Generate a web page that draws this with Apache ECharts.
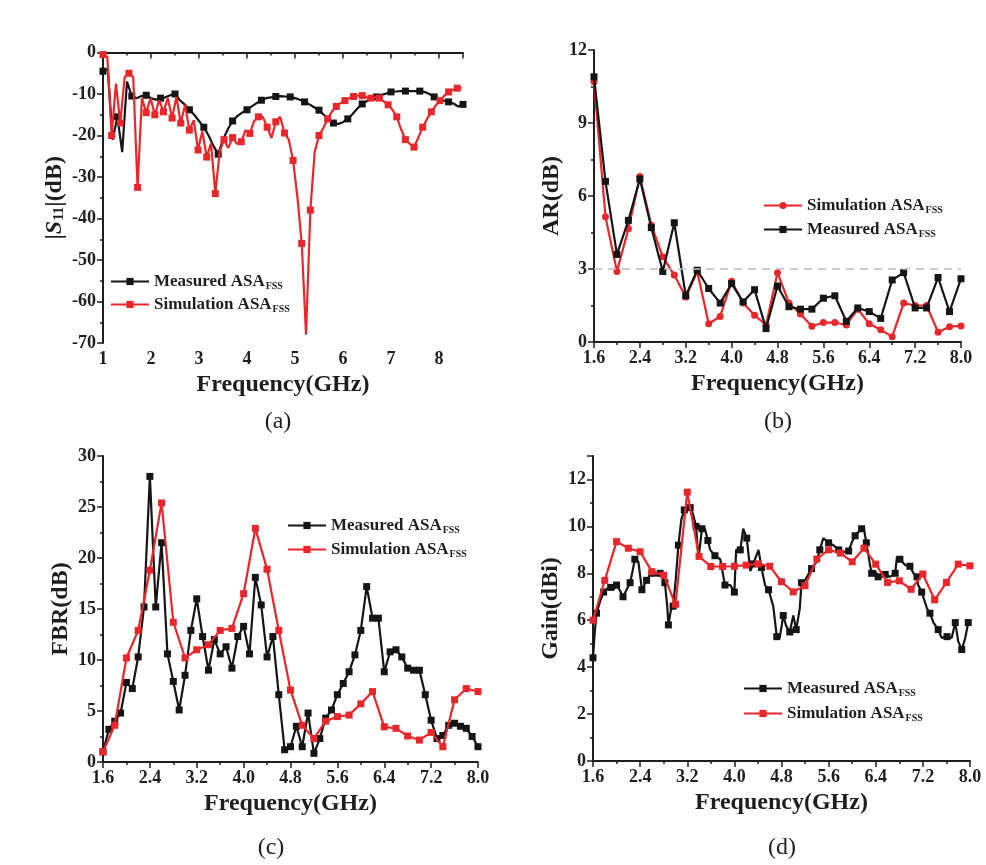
<!DOCTYPE html>
<html>
<head>
<meta charset="utf-8">
<script src="https://cdn.jsdelivr.net/npm/echarts@6/dist/echarts.min.js"></script>
<style>
  html, body { margin: 0; padding: 0; background: #fff; }
  #chart { width: 986px; height: 865px; }
</style>
</head>
<body>
<div id="chart"></div>
<script>
// (a) |S11| versus frequency, [GHz, dB]
const s11Measured = [
  [1.0,-4.5],[1.1,-4],[1.2,-21],[1.3,-15.5],[1.4,-24],[1.5,-7],[1.6,-10.5],[1.7,-11],[1.8,-10.5],[1.9,-10.3],
  [2.0,-11],[2.1,-11.4],[2.2,-11],[2.3,-10.8],[2.4,-10.3],[2.5,-10],[2.6,-11.5],[2.7,-12.5],[2.8,-13.8],[2.9,-15],
  [3.0,-16.5],[3.1,-18],[3.2,-20],[3.3,-22.5],[3.4,-24.5],[3.5,-21],[3.6,-18.5],[3.7,-16.5],[3.8,-15.3],[3.9,-14.5],
  [4.0,-13.8],[4.1,-13],[4.2,-12.2],[4.3,-11.5],[4.4,-11],[4.5,-10.8],[4.6,-10.6],[4.7,-10.5],[4.8,-10.6],[4.9,-10.7],
  [5.0,-11],[5.1,-11.4],[5.2,-11.9],[5.3,-12.5],[5.4,-13.2],[5.5,-13.9],[5.6,-15],[5.7,-16],[5.8,-17],[5.9,-17.2],
  [6.0,-16.8],[6.1,-16],[6.2,-14.8],[6.3,-13.5],[6.4,-12.4],[6.5,-11.7],[6.6,-11.1],[6.7,-10.7],[6.8,-10.2],[6.9,-9.9],
  [7.0,-9.5],[7.1,-9.4],[7.2,-9.3],[7.3,-9.3],[7.4,-9.3],[7.5,-9.3],[7.6,-9.3],[7.7,-9.5],[7.8,-10],[7.9,-10.7],
  [8.0,-11.2],[8.1,-11.6],[8.2,-11.9],[8.3,-12.3],[8.4,-13],[8.5,-12.5]
];
const s11Simulated = [
  [1.00,-0.5],[1.09,-1],[1.18,-20],[1.27,-7.5],[1.36,-17],[1.45,-6],[1.54,-5],[1.63,-6],[1.72,-32.5],[1.81,-11],
  [1.90,-14.5],[1.99,-11],[2.08,-15],[2.17,-11.5],[2.26,-14.3],[2.35,-11],[2.44,-15.8],[2.53,-10.7],[2.62,-17],[2.71,-12.6],
  [2.80,-18.7],[2.89,-16.3],[2.98,-23.5],[3.07,-19],[3.16,-25.2],[3.25,-21.9],[3.34,-34],[3.43,-24],[3.52,-21],[3.61,-23],
  [3.70,-20.5],[3.79,-22],[3.88,-21.5],[3.97,-18.7],[4.06,-19.5],[4.15,-16.5],[4.24,-15.5],[4.33,-15.5],[4.42,-18],[4.51,-20.6],
  [4.60,-16.7],[4.69,-15.5],[4.78,-19.4],[4.87,-21],[4.96,-26],[5.05,-34.8],[5.14,-46],[5.23,-68],[5.32,-38],[5.41,-24],
  [5.50,-20],[5.59,-18.2],[5.68,-16],[5.77,-14.2],[5.86,-13],[5.95,-12.2],[6.04,-11.6],[6.13,-11],[6.22,-10.6],[6.31,-10.4],
  [6.40,-10.4],[6.49,-10.8],[6.58,-11],[6.67,-10.8],[6.76,-11],[6.85,-11.8],[6.94,-12.6],[7.03,-13.8],[7.12,-15.5],[7.21,-18.5],
  [7.30,-21],[7.39,-22],[7.48,-22.8],[7.57,-20.5],[7.66,-18],[7.75,-16],[7.84,-14.3],[7.93,-12.8],[8.02,-11.6],[8.11,-10.4],
  [8.20,-9.5],[8.29,-9],[8.38,-8.6],[8.47,-8.6]
];

// (b) axial ratio, [GHz, dB]
const arSimulated = [
  [1.6,10.7],[1.8,5.15],[2.0,2.9],[2.2,4.65],[2.4,6.8],[2.6,4.8],[2.8,3.5],[3.0,2.75],[3.2,1.85],[3.4,2.9],
  [3.6,0.75],[3.8,1.05],[4.0,2.5],[4.2,1.6],[4.4,1.1],[4.6,0.7],[4.8,2.85],[5.0,1.6],[5.2,1.15],[5.4,0.65],
  [5.6,0.8],[5.8,0.8],[6.0,0.7],[6.2,1.35],[6.4,0.75],[6.6,0.5],[6.8,0.22],[7.0,1.6],[7.2,1.5],[7.4,1.5],
  [7.6,0.4],[7.8,0.63],[8.0,0.66]
];
const arMeasured = [
  [1.6,10.9],[1.8,6.6],[2.0,3.6],[2.2,5.0],[2.4,6.7],[2.6,4.7],[2.8,2.9],[3.0,4.9],[3.2,1.9],[3.4,2.95],
  [3.6,2.2],[3.8,1.6],[4.0,2.4],[4.2,1.65],[4.4,2.15],[4.6,0.55],[4.8,2.3],[5.0,1.45],[5.2,1.35],[5.4,1.35],
  [5.6,1.8],[5.8,1.9],[6.0,0.85],[6.2,1.4],[6.4,1.25],[6.6,0.97],[6.8,2.55],[7.0,2.85],[7.2,1.4],[7.4,1.4],
  [7.6,2.65],[7.8,1.25],[8.0,2.6]
];
const arLimit = 3;

// (c) front-to-back ratio, [GHz, dB]
const fbrMeasured = [
  [1.6,1.0],[1.7,3.2],[1.8,4.0],[1.9,4.8],[2.0,7.8],[2.1,7.2],[2.2,10.3],[2.3,15.2],[2.4,28.0],[2.5,15.2],
  [2.6,21.5],[2.7,10.6],[2.8,7.9],[2.9,5.1],[3.0,8.5],[3.1,12.9],[3.2,16.0],[3.3,12.3],[3.4,9.0],[3.5,12.0],
  [3.6,10.6],[3.7,11.3],[3.8,9.2],[3.9,12.3],[4.0,13.3],[4.1,10.6],[4.2,18.1],[4.3,15.4],[4.4,10.3],[4.5,12.3],
  [4.6,6.6],[4.7,1.2],[4.8,1.5],[4.9,3.5],[5.0,1.5],[5.1,4.8],[5.2,0.85],[5.3,2.3],[5.4,4.3],[5.5,5.1],
  [5.6,6.6],[5.7,7.7],[5.8,8.85],[5.9,10.5],[6.0,12.9],[6.1,17.2],[6.2,14.1],[6.3,14.1],[6.4,8.85],[6.5,10.8],
  [6.6,11.0],[6.7,10.3],[6.8,9.2],[6.9,9.0],[7.0,9.0],[7.1,6.6],[7.2,4.1],[7.3,2.3],[7.4,2.6],[7.5,3.6],
  [7.6,3.8],[7.7,3.5],[7.8,3.3],[7.9,2.5],[8.0,1.5]
];
const fbrSimulated = [
  [1.6,1.0],[1.8,3.6],[2.0,10.2],[2.2,12.9],[2.4,18.8],[2.6,25.4],[2.8,13.7],[3.0,10.2],[3.2,11.0],[3.4,11.5],
  [3.6,12.9],[3.8,13.1],[4.0,16.5],[4.2,22.9],[4.4,18.9],[4.6,12.9],[4.8,7.05],[5.0,3.6],[5.2,2.3],[5.4,4.0],
  [5.6,4.45],[5.8,4.6],[6.0,5.7],[6.2,6.9],[6.4,3.45],[6.6,3.3],[6.8,2.55],[7.0,2.15],[7.2,2.9],[7.4,1.5],
  [7.6,6.1],[7.8,7.2],[8.0,6.9]
];

// (d) realized gain, [GHz, dBi]
const gainMeasured = [
  [1.6,4.4],[1.63,5.5],[1.66,6.3],[1.72,6.8],[1.78,7.2],[1.84,7.35],[1.9,7.4],[1.95,7.3],[2.0,7.5],[2.05,7.3],
  [2.11,7.0],[2.17,7.3],[2.23,7.6],[2.28,8.2],[2.31,8.6],[2.37,8.5],[2.43,7.3],[2.47,7.5],[2.51,7.7],[2.56,7.9],
  [2.6,8.0],[2.67,7.9],[2.74,8.0],[2.79,7.8],[2.82,7.6],[2.86,6.6],[2.88,5.8],[2.92,6.4],[2.96,6.6],[3.0,7.6],
  [3.05,9.2],[3.1,10.3],[3.15,10.7],[3.19,10.8],[3.25,10.8],[3.3,10.5],[3.35,10.0],[3.39,8.6],[3.45,9.9],[3.5,9.9],
  [3.55,9.4],[3.59,9.0],[3.67,8.75],[3.76,8.6],[3.84,7.5],[3.93,7.5],[4.0,7.2],[4.03,9.0],[4.1,9.0],[4.15,9.9],
  [4.21,9.5],[4.27,8.1],[4.32,8.4],[4.41,9.0],[4.46,8.25],[4.52,7.5],[4.58,7.3],[4.66,6.6],[4.72,5.3],[4.77,5.25],
  [4.83,6.2],[4.88,5.75],[4.94,5.5],[5.0,6.2],[5.05,5.6],[5.11,6.5],[5.14,7.6],[5.2,7.7],[5.31,8.2],[5.4,8.5],
  [5.45,9.0],[5.51,9.5],[5.6,9.3],[5.68,9.2],[5.77,9.0],[5.85,8.9],[5.94,8.95],[5.99,9.3],[6.05,9.6],[6.1,9.75],
  [6.16,9.9],[6.2,9.9],[6.24,9.3],[6.3,8.4],[6.33,8.0],[6.39,8.1],[6.44,7.85],[6.5,8.0],[6.56,7.95],[6.64,7.85],
  [6.73,8.0],[6.76,8.7],[6.81,8.6],[6.9,8.35],[6.98,8.3],[7.04,8.0],[7.1,7.85],[7.12,7.5],[7.18,7.2],[7.27,6.5],
  [7.32,6.3],[7.38,5.9],[7.46,5.6],[7.52,5.25],[7.61,5.3],[7.69,5.25],[7.75,5.9],[7.8,5.1],[7.86,4.75],[7.92,5.25],
  [7.97,5.9]
];
const gainSimulated = [
  [1.6,6.0],[1.8,7.7],[2.0,9.35],[2.2,9.07],[2.4,8.92],[2.6,8.07],[2.8,7.92],[3.0,6.68],[3.2,11.46],[3.4,8.72],
  [3.6,8.29],[3.8,8.29],[4.0,8.3],[4.2,8.35],[4.4,8.4],[4.6,8.3],[4.8,7.64],[5.0,7.21],[5.2,7.47],[5.4,8.61],
  [5.6,9.0],[5.8,8.86],[6.0,8.49],[6.2,9.07],[6.4,8.39],[6.6,7.61],[6.8,7.68],[7.0,7.32],[7.2,7.97],[7.4,6.87],
  [7.6,7.61],[7.8,8.39],[8.0,8.32]
];

const panelLabels = ['(a)', '(b)', '(c)', '(d)'];
const legendMeasured = 'Measured ASA';
const legendSimulated = 'Simulation ASA';
const legendSub = 'FSS';

const SERIF = "'Liberation Serif','DejaVu Serif',serif";
const RED = '#e8262b';
const BLACK = '#151515';
const INK = '#1e1e1e';

const grids = [
  { left: 103, top: 52.5, width: 360, height: 290.5 },
  { left: 594, top: 50, width: 367, height: 292 },
  { left: 103, top: 456, width: 375, height: 306 },
  { left: 593, top: 456, width: 377, height: 305 }
];

function xAxis(i, min, max, interval, digits) {
  return {
    type: 'value', gridIndex: i, min, max, interval,
    name: 'Frequency(GHz)', nameLocation: 'middle', nameGap: 30,
    nameTextStyle: { fontFamily: SERIF, fontWeight: 'bold', fontSize: 24, color: INK },
    axisLine: { lineStyle: { color: INK, width: 2 } },
    axisTick: { length: 6, lineStyle: { color: INK, width: 1.5 } },
    minorTick: { show: true, splitNumber: 2, length: 3, lineStyle: { color: INK, width: 1.5 } },
    splitLine: { show: false },
    axisLabel: {
      fontFamily: SERIF, fontWeight: 'bold', fontSize: 18, color: INK, margin: 7,
      formatter: v => {
        const k = Math.round((v - min) / interval);
        return Math.abs(min + k * interval - v) < 1e-6 ? v.toFixed(digits) : '';
      }
    }
  };
}

function yAxis(i, name, min, max, interval, gap) {
  return {
    type: 'value', gridIndex: i, min, max, interval,
    name, nameLocation: 'middle', nameGap: gap, nameRotate: 90,
    nameTextStyle: {
      fontFamily: SERIF, fontWeight: 'bold', fontSize: 24, color: INK,
      rich: {
        n: { fontFamily: SERIF, fontWeight: 'bold', fontSize: 24, color: INK },
        i: { fontFamily: SERIF, fontWeight: 'bold', fontStyle: 'italic', fontSize: 24, color: INK },
        sub: { fontFamily: SERIF, fontWeight: 'bold', fontSize: 15, color: INK, padding: [8, 0, 0, 0] }
      }
    },
    axisLine: { lineStyle: { color: INK, width: 2 } },
    axisTick: { length: 6, lineStyle: { color: INK, width: 1.5 } },
    minorTick: { show: true, splitNumber: 2, length: 3, lineStyle: { color: INK, width: 1.5 } },
    splitLine: { show: false },
    axisLabel: {
      fontFamily: SERIF, fontWeight: 'bold', fontSize: 18, color: INK, margin: 7,
      formatter: v => {
        const k = Math.round((v - min) / interval);
        return Math.abs(min + k * interval - v) < 1e-6 ? String(v) : '';
      }
    }
  };
}

// Every point is drawn; a marker sits on every `every`-th point.
function curve(name, data, color, symbol, i, every, z) {
  return {
    type: 'line', name, xAxisIndex: i, yAxisIndex: i, z,
    data: data.map((p, k) => (k % every === 0 ? p : { value: p, symbol: 'none' })),
    symbol, symbolSize: 7, showAllSymbol: true,
    lineStyle: { color, width: 2.2 },
    itemStyle: { color, borderWidth: 0 },
    emphasis: { disabled: true },
    animation: false
  };
}

function legend(left, top, names, gap) {
  return {
    orient: 'vertical', left, top, padding: 0, itemGap: gap,
    itemWidth: 38, itemHeight: 9, selectedMode: false,
    data: names,
    formatter: n => (n.endsWith('meas') ? `{m|${legendMeasured}}{s|${legendSub}}` : `{m|${legendSimulated}}{s|${legendSub}}`),
    textStyle: {
      rich: {
        m: { fontFamily: SERIF, fontWeight: 'bold', fontSize: 17, color: INK, lineHeight: 20 },
        s: { fontFamily: SERIF, fontWeight: 'bold', fontSize: 10, color: INK, padding: [9, 0, 0, 1] }
      }
    }
  };
}

const chart = echarts.init(document.getElementById('chart'), null, { renderer: 'canvas' });

chart.setOption({
  backgroundColor: '#ffffff',
  animation: false,
  grid: grids,
  xAxis: [
    xAxis(0, 1, 8.5, 1, 0),
    xAxis(1, 1.6, 8.0, 0.8, 1),
    xAxis(2, 1.6, 8.0, 0.8, 1),
    xAxis(3, 1.6, 8.0, 0.8, 1)
  ],
  yAxis: [
    yAxis(0, '{n||}{i|S}{sub|11}{n||(dB)}', -70, 0, 10, 36),
    yAxis(1, 'AR(dB)', 0, 12, 3, 30),
    yAxis(2, 'FBR(dB)', 0, 30, 5, 30),
    yAxis(3, 'Gain(dBi)', 0, 13, 2, 30)
  ],
  legend: [
    legend(110, 273, ['a-meas', 'a-sim'], 5),
    legend(763, 197, ['b-sim', 'b-meas'], 6),
    legend(287, 517, ['c-meas', 'c-sim'], 6),
    legend(743, 680, ['d-meas', 'd-sim'], 7)
  ],
  series: [
    curve('a-meas', s11Measured, BLACK, 'rect', 0, 3, 2),
    curve('a-sim', s11Simulated, RED, 'rect', 0, 2, 3),
    Object.assign(curve('b-sim', arSimulated, RED, 'circle', 1, 1, 3), {
      markLine: {
        silent: true, symbol: 'none', label: { show: false },
        lineStyle: { color: '#b9bdc6', type: [8, 6], width: 1.5 },
        data: [{ yAxis: arLimit }]
      }
    }),
    curve('b-meas', arMeasured, BLACK, 'rect', 1, 1, 4),
    curve('c-meas', fbrMeasured, BLACK, 'rect', 2, 1, 2),
    curve('c-sim', fbrSimulated, RED, 'rect', 2, 1, 3),
    curve('d-meas', gainMeasured, BLACK, 'rect', 3, 2, 2),
    curve('d-sim', gainSimulated, RED, 'rect', 3, 1, 3)
  ],
  graphic: [
    [278, 422], [778, 422], [271, 848], [782, 848]
  ].map((c, k) => ({
    type: 'text', x: c[0], y: c[1],
    style: { text: panelLabels[k], font: `24px ${SERIF}`, fill: INK, align: 'center', verticalAlign: 'middle' }
  }))
});
</script>
</body>
</html>
